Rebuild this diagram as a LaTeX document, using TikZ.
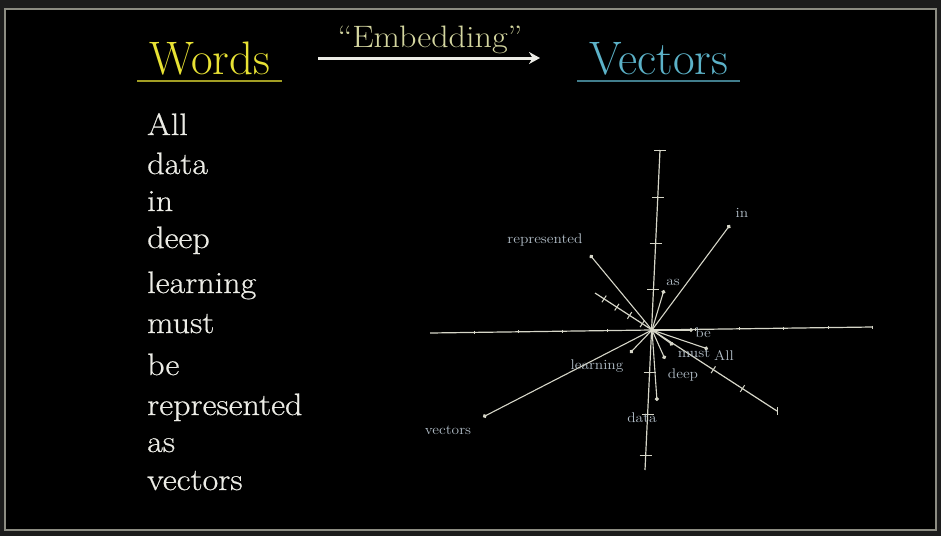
\documentclass[tikz,border=0pt]{standalone}
\usepackage{fontspec}
\usetikzlibrary{arrows.meta,calc}
\newfontfamily\widefont{Latin Modern Roman}[Ligatures=TeX, FakeStretch=1.1]
\newfontfamily\listfont{Latin Modern Roman}[Ligatures=TeX, FakeStretch=1.1, FakeBold=0.6]
\definecolor{wordyellow}{RGB}{232,226,52}
\definecolor{vecblue}{RGB}{92,178,200}
\definecolor{embedcol}{RGB}{212,214,160}
\definecolor{listcol}{RGB}{236,236,230}
\definecolor{linecol}{RGB}{214,214,200}
\definecolor{labelcol}{RGB}{178,190,200}
\definecolor{framecol}{RGB}{140,140,130}
\definecolor{outercol}{RGB}{28,28,28}
\tikzset{
  every node/.style={inner sep=0pt},
  title/.style={anchor=base, font=\fontsize{47}{47}\selectfont},
  listword/.style={anchor=base west, text=listcol, font=\listfont\fontsize{31}{31}\selectfont},
  wlabel/.style={text=labelcol, font=\widefont\fontsize{14}{14}\selectfont},
  axisline/.style={draw=linecol, line width=1.2pt},
  tickmark/.style={draw=linecol, line width=1pt},
  vec/.style={draw=linecol, line width=1.1pt, -{Circle[length=4pt]}},
}
\begin{document}
\begin{tikzpicture}[x=1pt,y=-1pt]
  % page, frame and black panel
  \fill[outercol] (0,0) rectangle (941,536);
  \fill[black] (5,9) rectangle (936,530);
  \draw[framecol, line width=1.6pt] (5,9) rectangle (936,530);
  \useasboundingbox (0,0) rectangle (941,536);

  % headings
  \node[title, text=wordyellow] (words) at (210,74) {Words};
  \node[title, text=vecblue] (vectors) at (659,74) {Vectors};
  \draw[wordyellow!70!black, line width=1.2pt] (137,81) -- (282,81);
  \draw[vecblue!70!black, line width=1.2pt] (577,81) -- (740,81);
  \coordinate (arrS) at (318,58);
  \coordinate (arrE) at (540,58);
  \draw[listcol, line width=3pt, -{Stealth[length=11pt,width=12pt]}] (arrS) -- (arrE);
  \node[anchor=base, text=embedcol, font=\widefont\fontsize{31}{31}\selectfont] (embed) at (430,47) {“Embedding”};

  % sentence, one word per line
  \node[listword] (w1) at (147,135) {All};
  \node[listword] (w2) at (147,174) {data};
  \node[listword] (w3) at (147,211) {in};
  \node[listword] (w4) at (147,248) {deep};
  \node[listword] (w5) at (147,293) {learning};
  \node[listword] (w6) at (147,333) {must};
  \node[listword] (w7) at (147,375) {be};
  \node[listword] (w8) at (147,415) {represented};
  \node[listword] (w9) at (147,452) {as};
  \node[listword] (w10) at (147,490) {vectors};

  % axes of the embedding space
  \coordinate (O) at (652,330);
  \coordinate (xL) at (430,333);
  \coordinate (xR) at (872,327);
  \coordinate (yT) at (660,150);
  \coordinate (yB) at (645,470);
  \coordinate (zA) at (595,293);
  \coordinate (zB) at (777,411);
  \draw[axisline] (xL) -- (xR);
  \draw[axisline] (yT) -- (yB);
  \draw[axisline] (zA) -- (zB);
  % ticks on the vertical axis
  \foreach \t in {0,0.147,0.291,0.437,0.694,0.825,0.956}
    \draw[tickmark] ($(yT)!\t!(yB)+(-6,0)$) -- ($(yT)!\t!(yB)+(6,0)$);
  % ticks on the horizontal axis
  \foreach \t in {0.1,0.2,0.3,0.4,0.6,0.7,0.8,0.9,1}
    \draw[tickmark, line width=0.5pt] ($(xL)!\t!(xR)+(0,-1.5)$) -- ($(xL)!\t!(xR)+(0,1.5)$);
  % ticks on the slanted axis
  \foreach \t in {0.05,0.12,0.19,0.26,0.65,0.81,1}
    \draw[tickmark] ($(zA)!\t!(zB)!4pt!90:(zB)$) -- ($(zA)!\t!(zB)!-4pt!90:(zB)$);

  % word vectors
  \coordinate (eIn) at (730,225);
  \coordinate (eRep) at (590,255);
  \coordinate (eAs) at (664,290);
  \coordinate (eBe) at (693,330);
  \coordinate (eMust) at (673,345);
  \coordinate (eAll) at (708,349);
  \coordinate (eDeep) at (665,359);
  \coordinate (eLearn) at (630,353);
  \coordinate (eData) at (657,401);
  \coordinate (eVec) at (483,417);
  \foreach \e in {eIn,eRep,eAs,eBe,eMust,eAll,eDeep,eLearn,eData,eVec}
    \draw[vec] (O) -- (\e);

  \node[wlabel] (lIn) at (742,213) {in};
  \node[wlabel] (lRep) at (545,240) {represented};
  \node[wlabel] (lAs) at (673,282) {as};
  \node[wlabel] (lBe) at (703,333) {be};
  \node[wlabel] (lMust) at (694,353) {must};
  \node[wlabel] (lAll) at (724,355) {All};
  \node[wlabel] (lLearn) at (597,366) {learning};
  \node[wlabel] (lDeep) at (683,375) {deep};
  \node[wlabel] (lData) at (642,418) {data};
  \node[wlabel] (lVec) at (448,430) {vectors};
\end{tikzpicture}
\end{document}
